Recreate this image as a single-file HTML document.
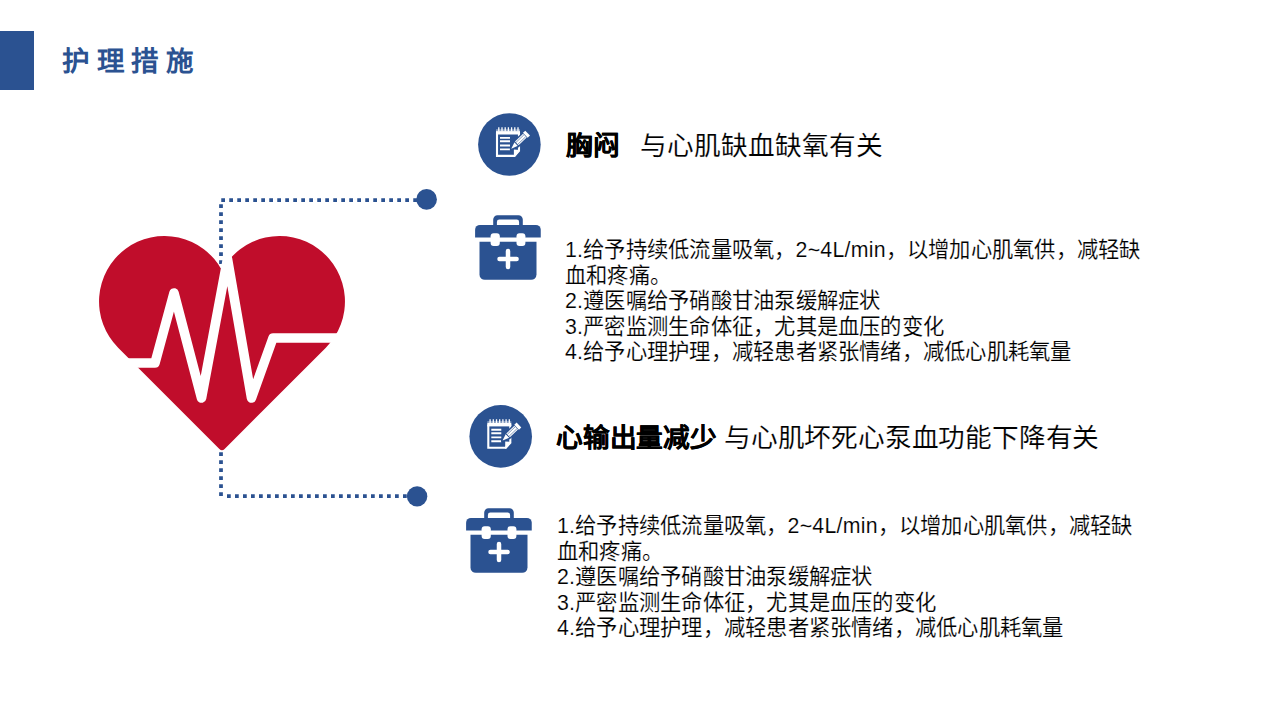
<!DOCTYPE html>
<html lang="zh-CN">
<head>
<meta charset="utf-8">
<style>
html,body{margin:0;padding:0;}
body{width:1280px;height:720px;position:relative;overflow:hidden;background:#fff;font-family:"Liberation Sans",sans-serif;color:#000;}
.abs{position:absolute;}
.bar{left:0;top:31px;width:34px;height:59px;background:#2b5291;}
.title{left:62px;top:41.5px;font-size:27.5px;font-weight:bold;color:#2b5291;letter-spacing:7.5px;white-space:nowrap;line-height:40px;}
.head{font-size:26.67px;white-space:nowrap;line-height:36px;-webkit-text-stroke:0.15px #fff;}
.hb{font-weight:bold;-webkit-text-stroke:0.15px #000;}
.body{font-size:21.33px;line-height:25.5px;letter-spacing:0.23px;white-space:nowrap;-webkit-text-stroke:0.15px #fff;}
svg{position:absolute;left:0;top:0;}
</style>
</head>
<body>
<div class="abs bar"></div>
<div class="abs title">护理措施</div>

<svg width="1280" height="720" viewBox="0 0 1280 720">
  <defs>
    <g id="note">
      <circle cx="0" cy="0" r="31.3" fill="#2b5291"/>
      <!-- page border -->
      <path d="M-12.4 -12 V11.4 H5 L9.6 6.4 V-12" fill="none" stroke="#fff" stroke-width="2.1"/>
      <!-- header band -->
      <rect x="-13.4" y="-13.4" width="24" height="3.4" fill="#fff"/>
      <g stroke="#fff" stroke-width="1.3">
        <path d="M-10.6 -17.2 V-13 M-7.4 -17.2 V-13 M-4.2 -17.2 V-13 M-1 -17.2 V-13 M2.2 -17.2 V-13 M5.4 -17.2 V-13 M8.6 -17.2 V-13"/>
      </g>
      <rect x="-13.4" y="-15.2" width="24" height="2" fill="#fff" opacity="0.45"/>
      <!-- lines -->
      <g stroke="#fff" stroke-width="1.9">
        <path d="M-9.4 -6.6 H0.6 M-9.4 -3.2 H0.6 M-9.4 1 H0.6 M-9.4 4.9 H0.6"/>
      </g>
      <!-- corner fold -->
      <path d="M10.6 5.5 L5.5 12.4 L4.5 12.4 L4.5 5 Z" fill="#fff"/>
      <!-- pencil -->
      <g transform="translate(1.9 4.2) rotate(-43.7)">
        <path d="M-0.6 0 L6.8 -3 H23.2 V3 H6.8 Z" fill="#2b5291" stroke="#2b5291" stroke-width="2.2" stroke-linejoin="round"/>
        <path d="M0 0 L6.8 -2.5 L6.8 2.5 Z" fill="#fff"/>
        <path d="M6.8 -2.7 H8 V2.7 H6.8 Z" fill="#2b5291"/>
        <rect x="7.6" y="-2.6" width="11.2" height="5.2" fill="#fff"/>
        <path d="M7.8 -1.3 H18.6 M7.8 1.3 H18.6" stroke="#2b5291" stroke-width="0.55"/>
        <rect x="19.4" y="-3.4" width="3.2" height="6.8" fill="#fff"/>
      </g>
    </g>
    <g id="kit">
      <path d="M493.2 237 V219.5 A4.3 4.3 0 0 1 497.5 215.2 H518.5 A4.3 4.3 0 0 1 522.8 219.5 V237 H519.1 V222 A2.4 2.4 0 0 0 516.7 219.6 H499.3 A2.4 2.4 0 0 0 496.9 222 V237 Z" fill="#2b5291"/>
      <path d="M475.1 237.6 V229.7 A4.8 4.8 0 0 1 479.9 224.9 H535.95 A4.8 4.8 0 0 1 540.75 229.7 V237.6 Z" fill="#2b5291"/>
      <path d="M479.5 241.8 H536.5 V274.5 A5.3 5.3 0 0 1 531.2 279.8 H484.8 A5.3 5.3 0 0 1 479.5 274.5 Z" fill="#2b5291"/>
      <rect x="490.6" y="233.3" width="9.2" height="12.7" rx="3" fill="#fff"/>
      <rect x="516.5" y="233.3" width="8.9" height="12.7" rx="3" fill="#fff"/>
      <path d="M499.5 259 H516.6 M508 250.9 V267" stroke="#fff" stroke-width="4.5" stroke-linecap="round"/>
    </g>
  </defs>
  <g fill="none" stroke="#2b5291" stroke-width="3.75" stroke-dasharray="3.75 4.25">
    <path d="M221.25 200 H418"/>
    <path d="M221 204.2 V497.8"/>
    <path d="M227 496 H408"/>
  </g>
  <circle cx="426.6" cy="199.4" r="10.3" fill="#2b5291"/>
  <circle cx="417.1" cy="496.4" r="10.2" fill="#2b5291"/>
  <!-- heart -->
  <path fill="#c00d2b" d="M222 270.4 A65.4 65.4 0 1 0 118.15 347.65 L219.4 448.9 Q222 451.5 224.6 448.9 L325.85 347.65 A65.4 65.4 0 1 0 222 270.4 Z"/>
  <polyline fill="none" stroke="#fff" stroke-width="9.6" stroke-linejoin="round" stroke-linecap="butt"
    points="90,363 155,363 174,293 201.5,398 227.5,259 251.5,398 273,338 360,338"/>
  <use href="#note" transform="translate(509.4 144.5)"/>
  <use href="#note" transform="translate(500.7 436.4)"/>
  <use href="#kit"/>
  <use href="#kit" transform="translate(-9 293)"/>
</svg>

<div class="abs head hb" style="left:566px;top:127.5px;">胸闷</div>
<div class="abs head" style="left:640px;top:127.5px;">与心肌缺血缺氧有关</div>
<div class="abs body" style="left:565px;top:238.3px;">1.给予持续低流量吸氧，2~4L/min，以增加心肌氧供，减轻缺<br>血和疼痛。<br>2.遵医嘱给予硝酸甘油泵缓解症状<br>3.严密监测生命体征，尤其是血压的变化<br>4.给予心理护理，减轻患者紧张情绪，减低心肌耗氧量</div>

<div class="abs head hb" style="left:556px;top:420px;letter-spacing:-0.25px;">心输出量减少</div>
<div class="abs head" style="left:724px;top:420px;letter-spacing:-0.2px;">与心肌坏死心泵血功能下降有关</div>
<div class="abs body" style="left:557px;top:514.3px;">1.给予持续低流量吸氧，2~4L/min，以增加心肌氧供，减轻缺<br>血和疼痛。<br>2.遵医嘱给予硝酸甘油泵缓解症状<br>3.严密监测生命体征，尤其是血压的变化<br>4.给予心理护理，减轻患者紧张情绪，减低心肌耗氧量</div>
</body>
</html>
